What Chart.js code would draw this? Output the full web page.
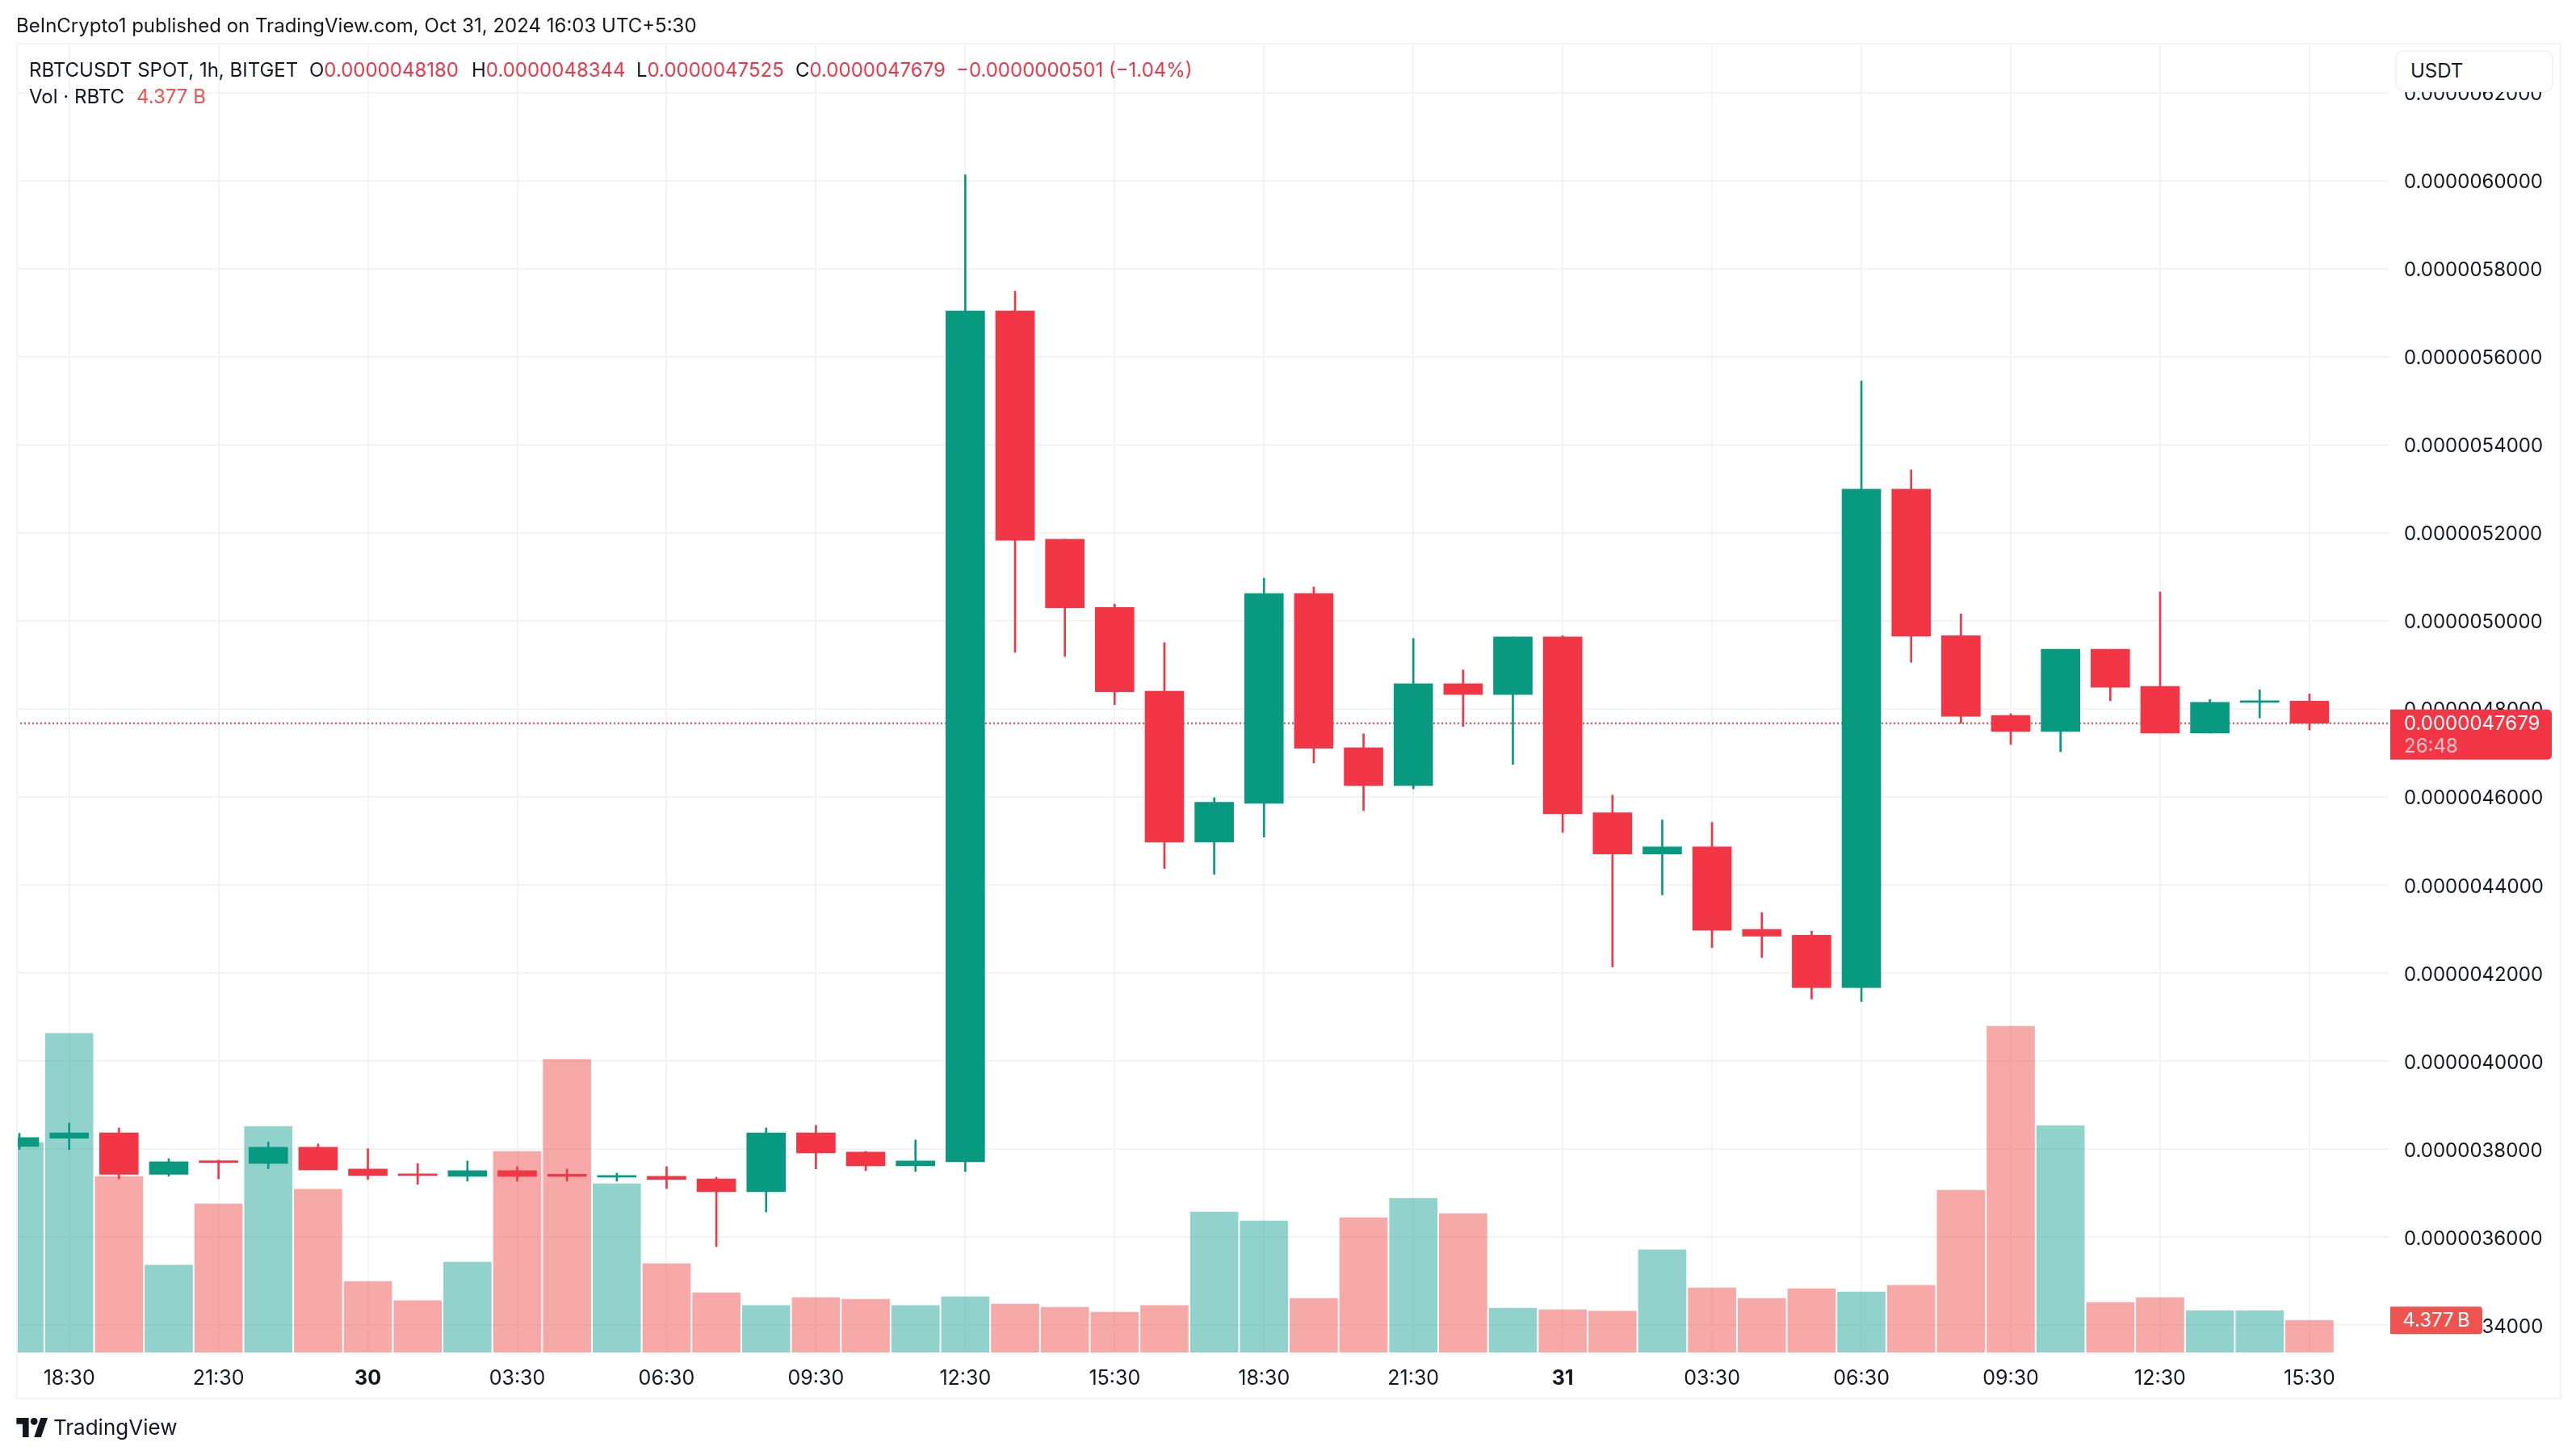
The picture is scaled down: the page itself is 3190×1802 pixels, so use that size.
<!DOCTYPE html>
<html>
<head>
<meta charset="utf-8">
<title>RBTCUSDT</title>
<script src="https://cdn.jsdelivr.net/npm/chart.js@4"></script>
<style>
  html, body { margin: 0; padding: 0; background: #fff; overflow: hidden; }
  body { width: 3190px; height: 1802px; position: relative; font-family: Inter, "Noto Sans", sans-serif; color: #131722; }
  #grafico { position: absolute; left: 0; top: 0; }
  .texto { position: absolute; white-space: pre; font-size: 24px; line-height: 30px; }
  .vermelho { color: #F23645; }
  #moldura { position: absolute; left: 20px; top: 53px; width: 3148px; height: 1676px; border: 2px solid #f2f3f5; pointer-events: none; }
  #usdt { position: absolute; box-sizing: border-box; left: 2966px; top: 62px; width: 196px; height: 52px; background: #fff; border: 2px solid #f2f3f5; border-radius: 10px; font-size: 24px; line-height: 48px; text-indent: 17px; }
  #logo { position: absolute; left: 20px; top: 1756px; width: 40px; height: 24px; }
</style>
</head>
<body>
<canvas id="grafico" width="3190" height="1802"></canvas>
<div id="moldura"></div>
<div class="texto" style="left:20px;top:17px">BeInCrypto1 published on TradingView.com, Oct 31, 2024 16:03 UTC+5:30</div>
<div class="texto" style="left:36px;top:72px">RBTCUSDT SPOT, 1h, BITGET</div>
<div class="texto" style="left:383px;top:72px">O<span class="vermelho">0.0000048180</span></div>
<div class="texto" style="left:584px;top:72px">H<span class="vermelho">0.0000048344</span></div>
<div class="texto" style="left:788px;top:72px">L<span class="vermelho">0.0000047525</span></div>
<div class="texto" style="left:985px;top:72px">C<span class="vermelho">0.0000047679</span></div>
<div class="texto vermelho" style="left:1184px;top:72px">−0.0000000501 (−1.04%)</div>
<div class="texto" style="left:36px;top:105px">Vol · RBTC</div>
<div class="texto" style="left:169px;top:105px;color:#EF5350">4.377 B</div>
<div id="usdt">USDT</div>
<svg id="logo" viewBox="0 0 36 22"><path fill="#131722" d="M14 22H7V7H0V0h14v22zM28 22h-8L27.5 0h8L28 22z"></path><circle fill="#131722" cx="20" cy="4" r="4"></circle></svg>
<div class="texto" style="left:66px;top:1753px;font-size:26px">TradingView</div>

<script>
// precos em unidades de 0.0000000001 USDT, uma vela por hora (17:30 ate 15:30)
const opens = [38065, 38252, 38375, 37431, 37741, 37677, 38045, 37554, 37444, 37386, 37515, 37431, 37366, 37386, 37328, 37037, 38375, 37935, 37625, 37715, 57044, 51857, 50311, 48407, 44977, 45861, 50627, 47124, 46261, 48575, 48333, 49638, 45645, 44708, 44870, 42994, 42861, 41674, 52995, 49665, 47856, 47492, 49359, 48516, 47454, 48153, 48180];
const highs = [38362, 38595, 38485, 37787, 37754, 38162, 38123, 38013, 37677, 37735, 37606, 37554, 37457, 37606, 37366, 38485, 38543, 37955, 38213, 60137, 57496, 51857, 50385, 49512, 45987, 50974, 50774, 47439, 49606, 48891, 49638, 49669, 46047, 45483, 45425, 43377, 42956, 55455, 53435, 50162, 47894, 49359, 49359, 50660, 48220, 48440, 48344];
const lows = [38000, 37994, 37328, 37392, 37328, 37560, 37534, 37315, 37205, 37276, 37276, 37276, 37276, 37108, 35789, 36577, 37554, 37515, 37496, 37496, 49291, 49196, 48102, 44378, 44246, 45093, 46776, 45693, 46187, 47607, 46745, 45199, 42143, 43779, 42583, 42354, 41415, 41358, 49062, 47674, 47196, 47033, 48191, 47454, 47454, 47799, 47525];
const closes = [38265, 38375, 37431, 37715, 37696, 38045, 37534, 37405, 37405, 37515, 37386, 37386, 37405, 37315, 37037, 38375, 37916, 37625, 37735, 57044, 51836, 50301, 48396, 44977, 45882, 50627, 47113, 46261, 48575, 48333, 49638, 45619, 44708, 44870, 42975, 42841, 41674, 52995, 49655, 47837, 47492, 49359, 48497, 47454, 48153, 48191, 47679];

// volume em bilhoes de RBTC
const volumes = [28.58, 43.46, 23.97, 11.89, 20.22, 30.79, 22.23, 9.68, 7.05, 12.32, 27.38, 39.93, 22.97, 12.08, 8.13, 6.39, 7.47, 7.24, 6.39, 7.59, 6.58, 6.16, 5.50, 6.39, 19.13, 17.93, 7.36, 18.36, 20.99, 18.90, 6.04, 5.81, 5.62, 13.98, 8.79, 7.36, 8.68, 8.25, 9.14, 22.11, 44.42, 30.91, 6.82, 7.47, 5.69, 5.69, 4.377];

// eixos
const timeTickIndex = [1, 4, 7, 10, 13, 16, 19, 22, 25, 28, 31, 34, 37, 40, 43, 46];
const timeTickLabels = ['18:30', '21:30', '30', '03:30', '06:30', '09:30', '12:30', '15:30', '18:30', '21:30', '31', '03:30', '06:30', '09:30', '12:30', '15:30'];
const priceTicks = [34000, 36000, 38000, 40000, 42000, 44000, 46000, 48000, 50000, 52000, 54000, 56000, 58000, 60000, 62000];

const lastPrice = 47679;
const lastVolume = 4.377;

const xMin = -0.065, xMax = 47.591;
const priceMin = 33385, priceMax = 63100;
const volumeMax = 178.2;

const UP = '#089981', DOWN = '#F23645';
const GRID = '#f2f3f5';
const FONT = 'Inter, "Noto Sans", sans-serif';

const isUp = opens.map((o, i) => closes[i] >= o);
const candleColors = isUp.map(u => u ? UP : DOWN);
const volumeColors = isUp.map(u => u ? 'rgba(38,166,154,0.5)' : 'rgba(239,83,80,0.5)');

function formatPrice(v) {
    return (v / 1e10).toFixed(10);
}

// etiquetas do ultimo preco e do volume, por cima do eixo
const tagsPlugin = {
    id: 'tags',
    afterDraw(chart) {
        const ctx = chart.ctx;
        const left = chart.chartArea.right + 2;
        const py = chart.scales.y.getPixelForValue(lastPrice);
        const vy = chart.scales.yVol.getPixelForValue(lastVolume);
        ctx.save();
        ctx.fillStyle = DOWN;
        ctx.beginPath();
        ctx.roundRect(left, py - 17, 200, 62, [0, 5, 5, 0]);
        ctx.fill();
        ctx.font = '24px ' + FONT;
        ctx.textAlign = 'left';
        ctx.textBaseline = 'middle';
        ctx.fillStyle = '#fff';
        ctx.fillText(formatPrice(lastPrice), left + 17, py + 1);
        ctx.fillStyle = 'rgba(255,255,255,0.7)';
        ctx.fillText('26:48', left + 17, py + 29);

        ctx.fillStyle = '#EF5350';
        ctx.beginPath();
        ctx.roundRect(left, vy - 17, 114, 34, [0, 4, 4, 0]);
        ctx.fill();
        ctx.fillStyle = '#fff';
        ctx.textAlign = 'center';
        ctx.fillText('4.377\u2009B', left + 57, vy + 1);
        ctx.restore();
    }
};

const ctx = document.getElementById('grafico').getContext('2d');
new Chart(ctx, {
    type: 'bar',
    data: {
        datasets: [
            {
                label: 'Body',
                order: 1,
                yAxisID: 'y',
                grouped: false,
                barThickness: 48,
                backgroundColor: candleColors,
                data: opens.map((o, i) => ({ x: i, y: [o, closes[i]] }))
            },
            {
                label: 'Wick',
                order: 2,
                yAxisID: 'y',
                grouped: false,
                barThickness: 2,
                backgroundColor: candleColors,
                data: lows.map((l, i) => ({ x: i, y: [l, highs[i]] }))
            },
            {
                type: 'line',
                label: 'Last',
                order: 3,
                yAxisID: 'y',
                borderColor: DOWN,
                borderWidth: 2,
                borderDash: [2, 3],
                pointRadius: 0,
                data: [{ x: xMin, y: lastPrice }, { x: xMax, y: lastPrice }]
            },
            {
                label: 'Vol',
                order: 4,
                yAxisID: 'yVol',
                grouped: false,
                barThickness: 59,
                backgroundColor: volumeColors,
                data: volumes.map((v, i) => ({ x: i, y: v }))
            }
        ]
    },
    options: {
        responsive: false,
        animation: false,
        events: [],
        layout: { padding: { left: 20, top: 55, right: 0, bottom: 71 } },
        plugins: { legend: { display: false }, tooltip: { enabled: false } },
        scales: {
            x: {
                type: 'linear',
                offset: false,
                min: xMin,
                max: xMax,
                afterBuildTicks: scale => { scale.ticks = timeTickIndex.map(v => ({ value: v })); },
                afterFit: scale => { scale.height = 56; scale.paddingLeft = 0; scale.paddingRight = 0; },
                grid: { color: GRID, lineWidth: 2, drawTicks: false, offset: false },
                border: { display: false },
                ticks: {
                    autoSkip: false,
                    maxRotation: 0,
                    padding: 17,
                    color: '#131722',
                    font: c => {
                        // dias (30, 31) em negrito
                        const lab = c.tick ? timeTickLabels[timeTickIndex.indexOf(c.tick.value)] : '';
                        return { family: FONT, size: 25, weight: lab && lab.length === 2 ? 'bold' : 'normal' };
                    },
                    callback: v => timeTickLabels[timeTickIndex.indexOf(v)]
                }
            },
            y: {
                position: 'right',
                min: priceMin,
                max: priceMax,
                afterBuildTicks: scale => { scale.ticks = priceTicks.map(v => ({ value: v })); },
                afterFit: scale => { scale.width = 232; scale.paddingTop = 0; scale.paddingBottom = 0; },
                grid: { color: GRID, lineWidth: 2, drawTicks: false },
                border: { display: false },
                ticks: {
                    padding: 19,
                    labelOffset: 2,
                    color: '#131722',
                    font: { family: FONT, size: 24 },
                    callback: v => formatPrice(v)
                }
            },
            yVol: {
                display: false,
                min: 0,
                max: volumeMax
            }
        }
    },
    plugins: [tagsPlugin]
});
</script>
</body>
</html>
